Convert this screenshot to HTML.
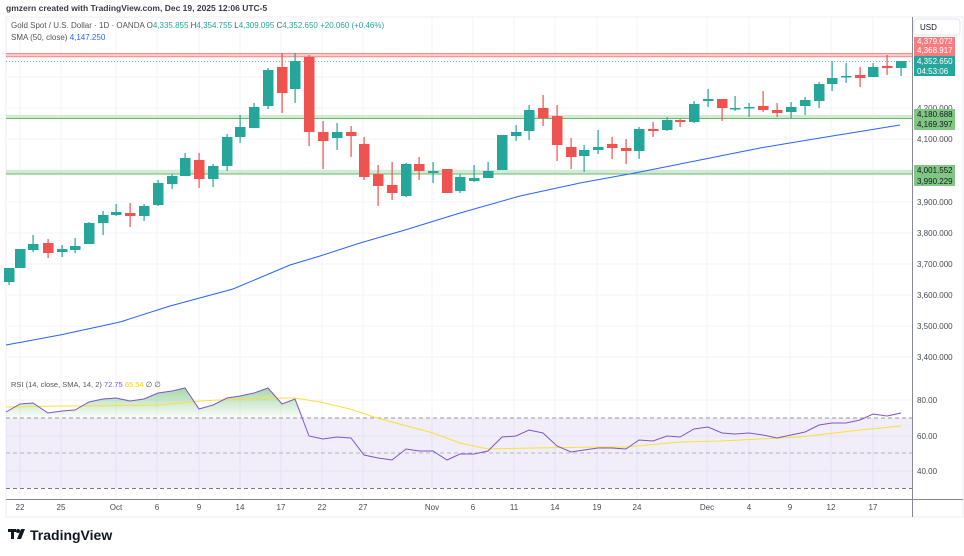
<!DOCTYPE html>
<html><head><meta charset="utf-8"><style>
body{margin:0;background:#fff;width:964px;height:556px;overflow:hidden;font-family:"Liberation Sans",sans-serif}
svg{position:absolute;left:0;top:0}
text{font-family:"Liberation Sans",sans-serif}
</style></head><body>
<svg id="s" width="964" height="556" viewBox="0 0 964 556" xmlns="http://www.w3.org/2000/svg">
<rect x="6" y="17" width="957" height="500" fill="#fff" stroke="#eceef2"/>
<g id="grid" stroke="#f0f3fa" stroke-width="1"></g>
<rect x="6" y="418" width="906" height="70" fill="#7e57c2" fill-opacity="0.1"/>
<!-- horizontal level lines -->
<rect x="6" y="53" width="906" height="4" fill="#f7a9a7" opacity="0.6"/>
<line x1="6" y1="53.5" x2="912" y2="53.5" stroke="#ef8a88"/>
<line x1="6" y1="56.8" x2="912" y2="56.8" stroke="#ef8a88"/>
<line x1="6" y1="61.5" x2="912" y2="61.5" stroke="#26a69a" stroke-dasharray="1,2" opacity="0.7"/>
<rect x="6" y="115" width="906" height="3.5" fill="#c8e6c9" opacity="0.8"/>
<line x1="6" y1="118.5" x2="912" y2="118.5" stroke="#66bb6a"/>
<rect x="6" y="170" width="906" height="4" fill="#c8e6c9" opacity="0.8"/>
<line x1="6" y1="174" x2="912" y2="174" stroke="#66bb6a"/>
<polyline fill="none" stroke="#2962ff" stroke-width="1" points="6,345 60,335 120,322 170,306 233,289 290,265 320,256 360,243 405,230 460,213 520,196 580,183 640,172 700,160 760,148 820,138 900,125"/>
<g id="candles"></g>
<!-- RSI -->
<line x1="6" y1="418" x2="912" y2="418" stroke="#9598a1" stroke-dasharray="4,3"/>
<line x1="6" y1="453" x2="912" y2="453" stroke="#b2b5be" stroke-dasharray="4,3"/>
<line x1="6" y1="488.5" x2="912" y2="488.5" stroke="#787b86" stroke-dasharray="4,3"/>
<defs><linearGradient id="gg" x1="0" y1="385" x2="0" y2="418" gradientUnits="userSpaceOnUse"><stop offset="0" stop-color="#4caf50" stop-opacity="0.55"/><stop offset="1" stop-color="#4caf50" stop-opacity="0.02"/></linearGradient></defs>
<polygon fill="url(#gg)" points="6,412 20,404 33,403 48,413 62,411 75,410 89,402 103,399 116,398 130,401 144,399 158,393 172,391 185,388 199,409 213,405 227,398 240,396 254,393 268,388 282,404 295,399 305,418 6,418"/>
<polyline fill="none" stroke="#f7e13a" stroke-width="1" points="6,407 60,406 100,406 160,405 180,403 200,401 260,398 295,398 320,402 350,409 377,418 433,433 460,443 488,449 533,448 600,447 626,447 680,442 720,441 760,439 800,437 860,430 901,426"/>
<polyline fill="none" stroke="#7e57c2" stroke-width="1" points="6,412 20,404 33,403 48,413 62,411 75,410 89,402 103,399 116,398 130,401 144,399 158,393 172,391 185,388 199,409 213,405 227,398 240,396 254,393 268,388 282,404 295,399 309,436 323,439 337,437 351,438 364,455 378,458 392,460 406,449 419,451 433,451 447,460 460,454 474,454 488,451 502,437 516,436 529,430 543,433 557,446 571,452 584,450 598,448 612,448 626,449 639,440 653,441 667,436 680,437 694,429 708,427 722,433 735,434 749,433 763,435 777,438 791,435 805,432 819,425 832,423 846,423 860,420 873,414 887,416 901,413"/>
<!-- axes -->
<line x1="912.5" y1="17" x2="912.5" y2="517" stroke="#868993"/>
<line x1="6" y1="499.5" x2="963" y2="499.5" stroke="#868993"/>
<g font-size="8" fill="#131722" opacity="0.8">
<text x="917" y="111">4,200.000</text><text x="917" y="142">4,100.000</text>
<text x="917" y="205">3,900.000</text><text x="917" y="236">3,800.000</text><text x="917" y="267">3,700.000</text>
<text x="917" y="298">3,600.000</text><text x="917" y="329">3,500.000</text><text x="917" y="360">3,400.000</text>
<text x="917" y="403">80.00</text><text x="917" y="439">60.00</text><text x="917" y="474">40.00</text>
</g>
<rect x="914" y="19" width="46" height="16" rx="3" fill="#fff" stroke="#e0e3eb"/>
<text x="920" y="30" font-size="8" fill="#131722">USD</text>
<rect x="914" y="37" width="41" height="19" fill="#f77c80"/>
<text x="917" y="44" font-size="8" fill="#fff">4,379.072</text>
<text x="917" y="53" font-size="8" fill="#fff">4,368.917</text>
<rect x="914" y="56" width="41" height="20" fill="#26a69a"/>
<text x="917" y="64" font-size="8" fill="#fff">4,352.650</text>
<text x="917" y="74" font-size="8" fill="#fff">04:53:06</text>
<rect x="914" y="109" width="41" height="21" fill="#81c784"/>
<text x="917" y="117" font-size="8" fill="#131722">4,180.688</text>
<text x="917" y="127" font-size="8" fill="#131722">4,169.397</text>
<rect x="914" y="165" width="41" height="21" fill="#81c784"/>
<text x="917" y="173" font-size="8" fill="#131722">4,001.552</text>
<text x="917" y="184" font-size="8" fill="#131722">3,990.229</text>
<g font-size="8" fill="#131722" opacity="0.8" text-anchor="middle">
<text x="20" y="510">22</text><text x="61" y="510">25</text><text x="116" y="510">Oct</text><text x="157" y="510">6</text>
<text x="199" y="510">9</text><text x="240" y="510">14</text><text x="281" y="510">17</text><text x="322" y="510">22</text>
<text x="363" y="510">27</text><text x="432" y="510">Nov</text><text x="473" y="510">6</text><text x="514" y="510">11</text>
<text x="555" y="510">14</text><text x="597" y="510">19</text><text x="637" y="510">24</text><text x="707" y="510">Dec</text>
<text x="749" y="510">4</text><text x="790" y="510">9</text><text x="831" y="510">12</text><text x="873" y="510">17</text>
</g>
<text x="6" y="11" font-size="8.5" fill="#131722" font-weight="bold" opacity="0.85">gmzern created with TradingView.com, Dec 19, 2025 12:06 UTC-5</text>
<text x="11" y="28" font-size="8" fill="#555"><tspan>Gold Spot / U.S. Dollar · 1D · OANDA  O</tspan><tspan fill="#26a69a">4,335.855</tspan><tspan>  H</tspan><tspan fill="#26a69a">4,354.755</tspan><tspan>  L</tspan><tspan fill="#26a69a">4,309.095</tspan><tspan>  C</tspan><tspan fill="#26a69a">4,352.650  +20.060 (+0.46%)</tspan></text>
<text x="11" y="40" font-size="8" fill="#555">SMA (50, close)  <tspan fill="#2962ff">4,147.250</tspan></text>
<text x="11" y="387" font-size="7.5" fill="#555">RSI (14, close, SMA, 14, 2)  <tspan fill="#7e57c2">72.75</tspan>  <tspan fill="#f5d10a">65.54</tspan>  ∅  ∅</text>
<g transform="translate(8,529)"><rect x="0" y="0" width="8" height="3" fill="#131722"/><rect x="3" y="0" width="3" height="10" fill="#131722"/><circle cx="10" cy="2" r="2" fill="#131722"/><polygon points="13,0 17,0 13,10 9,10" fill="#131722"/></g>
<text x="30" y="540" font-size="14" font-weight="bold" fill="#131722">TradingView</text>
</svg>
<script>
var ns="http://www.w3.org/2000/svg";
var g=document.getElementById('grid');
[20,61,116,157,199,240,281,322,363,432,473,514,555,597,637,707,749,790,831,873].forEach(function(x){var l=document.createElementNS(ns,'line');l.setAttribute('x1',x);l.setAttribute('x2',x);l.setAttribute('y1',17);l.setAttribute('y2',499);g.appendChild(l);});
[77,108,139,170,202,233,264,295,326,357,400,436,471].forEach(function(y){var l=document.createElementNS(ns,'line');l.setAttribute('x1',6);l.setAttribute('x2',912);l.setAttribute('y1',y);l.setAttribute('y2',y);g.appendChild(l);});
var G='#26a69a',R='#ef5350';
var c=[[9,268,282,268,285,G],[20,249,268,249,268,G],[33,244,250,235,252,G],[48,243,253,239,258,R],[62,249,252,245,257,G],[75,246,250,238,253,G],[89,223,244,222,244,G],[103,215,223,211,235,G],[116,212,215,204,216,G],[130,213,216,203,227,R],[144,206,216,204,221,G],[158,183,205,180,206,G],[172,176,184,174,189,G],[185,158,176,153,176,G],[199,160,179,153,188,R],[213,166,179,164,187,G],[227,137,166,134,171,G],[240,127,137,115,143,G],[254,107,128,103,128,G],[268,70,106,68,109,G],[282,67,93,53,113,R],[295,61,89,53,103,G],[309,57,132,55,146,R],
[323,132,141,121,169,R],[337,132,138,123,150,G],[351,132,136,126,157,R],[364,144,177,137,180,R],[378,174,186,165,206,R],[392,185,193,162,200,R],[406,164,196,163,197,G],[419,164,171,157,180,R],[433,171,173,162,183,G],[447,169,193,169,193,R],[460,177,191,174,193,G],[474,178,181,165,182,G],[488,171,178,162,178,G],[502,135,170,135,170,G],[516,132,136,125,141,G],[529,110,131,105,140,G],[543,108,118,95,126,R],[557,116,145,105,161,R],[571,147,157,138,169,R],[584,150,156,145,172,G],[598,147,150,130,154,G],[612,144,148,137,159,R],
[626,148,151,139,164,R],[639,129,151,127,159,G],[653,129,131,122,137,R],[667,120,130,117,131,G],[680,120,122,119,127,R],[694,104,122,101,123,G],[708,99,101,89,107,G],[722,99,108,99,121,R],[735,108,109,96,111,G],[749,107,108,103,117,G],[763,106,110,91,112,R],[777,110,113,103,117,R],[791,107,112,102,118,G],[805,100,106,97,115,G],[819,84,101,82,108,G],[832,78,84,61,91,G],[846,76,77,63,83,G],[860,75,78,67,87,R],[873,67,77,63,77,G],[887,66,68,55,75,R],[901,61,68,61,76,G]];
var cg=document.getElementById('candles');
c.forEach(function(d){var w=document.createElementNS(ns,'rect');w.setAttribute('x',d[0]-0.5);w.setAttribute('y',d[3]);w.setAttribute('width',1.2);w.setAttribute('height',Math.max(1,d[4]-d[3]));w.setAttribute('fill',d[5]);cg.appendChild(w);
var b=document.createElementNS(ns,'rect');b.setAttribute('x',d[0]-5);b.setAttribute('y',d[1]);b.setAttribute('width',10.5);b.setAttribute('height',Math.max(1.5,d[2]-d[1]));b.setAttribute('fill',d[5]);cg.appendChild(b);});
</script>
</body></html>
